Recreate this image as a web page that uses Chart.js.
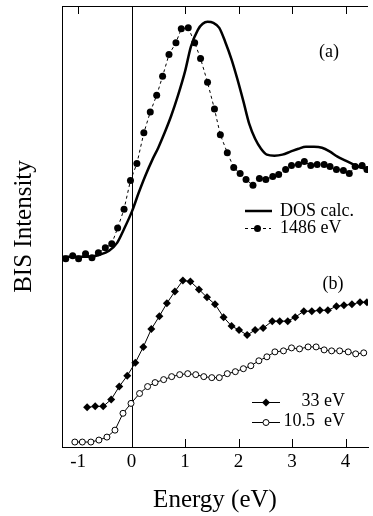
<!DOCTYPE html>
<html>
<head>
<meta charset="utf-8">
<script src="https://cdn.jsdelivr.net/npm/chart.js@4.4.0/dist/chart.umd.min.js"></script>
<style>
  html, body { margin: 0; padding: 0; background: #fff; }
  canvas { display: block; }
</style>
</head>
<body>
<canvas id="bis" width="373" height="516"></canvas>
<script>
// energies in eV, intensities in arbitrary units
const dosE = [-1.30, -1.06, -0.79, -0.60, -0.42, -0.27, -0.14, 0.01, 0.13, 0.26, 0.39, 0.50, 0.61, 0.74, 0.87, 1.00, 1.11, 1.24, 1.33, 1.42, 1.53, 1.64, 1.75, 1.87, 1.98, 2.09, 2.20, 2.31, 2.42, 2.53, 2.67, 2.82, 2.97, 3.12, 3.26, 3.41, 3.56, 3.71, 3.85, 4.00, 4.15, 4.29, 4.42];
const dosI = [192, 192, 192, 194, 198, 206, 220, 238, 256, 274, 290, 302, 316, 334, 355, 379, 404, 421, 427, 429, 428, 423, 409, 391, 371, 349, 326, 311, 301, 295, 294, 295, 298, 301, 303, 303, 302, 298, 293, 289, 285, 282, 281];

const e1486 = [-1.23, -1.10, -0.99, -0.86, -0.74, -0.62, -0.49, -0.37, -0.26, -0.14, -0.02, 0.10, 0.23, 0.35, 0.47, 0.58, 0.70, 0.83, 0.93, 1.06, 1.18, 1.29, 1.42, 1.55, 1.66, 1.79, 1.91, 2.03, 2.14, 2.27, 2.39, 2.51, 2.64, 2.75, 2.88, 2.99, 3.12, 3.23, 3.35, 3.47, 3.60, 3.71, 3.83, 3.96, 4.07, 4.18, 4.31, 4.40];
const i1486 = [190, 193, 190, 195, 191, 196, 201, 205, 221, 240, 269, 286, 317, 338, 355, 374, 396, 408, 422, 423, 408, 392, 368, 341, 315, 297, 282, 276, 270, 264, 271, 270, 273, 275, 280, 284, 285, 288, 284, 285, 285, 283, 280, 279, 276, 283, 284, 280];

const e33 = [-0.83, -0.68, -0.53, -0.38, -0.23, -0.08, 0.07, 0.22, 0.37, 0.52, 0.66, 0.81, 0.96, 1.10, 1.26, 1.41, 1.56, 1.72, 1.87, 2.01, 2.16, 2.31, 2.46, 2.63, 2.77, 2.92, 3.06, 3.22, 3.37, 3.52, 3.67, 3.83, 3.97, 4.12, 4.27, 4.40];
const i33 = [40, 41, 41, 48, 61, 72, 85, 101, 119, 132, 145, 157, 168, 167, 159, 151, 144, 131, 122, 118, 113, 118, 120, 127, 127, 127, 131, 137, 137, 138, 138, 142, 143, 144, 146, 146];

const e105 = [-1.06, -0.92, -0.76, -0.61, -0.46, -0.31, -0.16, -0.01, 0.15, 0.30, 0.44, 0.60, 0.75, 0.90, 1.05, 1.20, 1.35, 1.50, 1.64, 1.79, 1.94, 2.09, 2.23, 2.38, 2.53, 2.68, 2.84, 2.99, 3.14, 3.30, 3.45, 3.60, 3.74, 3.89, 4.05, 4.19, 4.34];
const i105 = [5, 5, 5, 7, 10, 17, 34, 44, 54, 61, 65, 68, 71, 73, 74, 73, 71, 70, 70, 74, 76, 79, 82, 87, 91, 96, 97, 100, 99, 101, 101, 98, 97, 97, 96, 94, 95];

const xTicks = [-1, 0, 1, 2, 3, 4];
const topTicks = [-1, 1, 2, 3, 4];
const bottomTicks = [1, 2, 3, 4];

const SERIF = '"Liberation Serif", "Times New Roman", serif';
const pts = (xs, ys) => xs.map((x, i) => ({ x, y: ys[i] }));

// frame, inward ticks, zero line, legends and panel labels
const frame = {
  id: 'frame',
  beforeDraw(chart) {
    const { ctx, width, height } = chart;
    ctx.save();
    ctx.fillStyle = '#fff';
    ctx.fillRect(0, 0, width, height);
    ctx.restore();
  },
  beforeDatasetsDraw(chart) {
    const { ctx, chartArea: a, scales: { x } } = chart;
    ctx.save();
    ctx.strokeStyle = '#000';
    ctx.lineWidth = 1;
    ctx.beginPath();
    ctx.moveTo(a.left, a.top + 0.5);
    ctx.lineTo(a.right, a.top + 0.5);
    const x0 = Math.round(x.getPixelForValue(0)) + 0.5;
    ctx.moveTo(x0, a.top);
    ctx.lineTo(x0, a.bottom);
    topTicks.forEach(v => {
      const px = Math.round(x.getPixelForValue(v)) + 0.5;
      ctx.moveTo(px, a.top);
      ctx.lineTo(px, a.top + 8);
    });
    bottomTicks.forEach(v => {
      const px = Math.round(x.getPixelForValue(v)) + 0.5;
      ctx.moveTo(px, a.bottom);
      ctx.lineTo(px, a.bottom - 8);
    });
    ctx.stroke();
    ctx.restore();
  },
  afterDraw(chart) {
    const { ctx } = chart;
    ctx.save();
    ctx.fillStyle = '#000';
    ctx.strokeStyle = '#000';
    ctx.textBaseline = 'middle';

    // (a) legend
    ctx.lineWidth = 2.5;
    ctx.beginPath(); ctx.moveTo(245, 211); ctx.lineTo(272, 211); ctx.stroke();
    ctx.lineWidth = 1;
    ctx.setLineDash([3, 3]);
    ctx.beginPath(); ctx.moveTo(245, 228.5); ctx.lineTo(271, 228.5); ctx.stroke();
    ctx.setLineDash([]);
    ctx.beginPath(); ctx.arc(257.5, 228.5, 3.5, 0, Math.PI * 2); ctx.fill();

    ctx.font = '18px ' + SERIF;
    ctx.textAlign = 'left';
    ctx.fillText('DOS calc.', 280, 211);
    ctx.fillText('1486 eV', 280, 228);

    // (b) legend
    ctx.beginPath(); ctx.moveTo(252, 402.5); ctx.lineTo(280, 402.5); ctx.stroke();
    ctx.beginPath();
    ctx.moveTo(266, 398.5); ctx.lineTo(270, 402.5); ctx.lineTo(266, 406.5); ctx.lineTo(262, 402.5);
    ctx.closePath(); ctx.fill();
    ctx.beginPath(); ctx.moveTo(252, 422.5); ctx.lineTo(280, 422.5); ctx.stroke();
    ctx.beginPath(); ctx.arc(266, 422.5, 3, 0, Math.PI * 2);
    ctx.fillStyle = '#fff'; ctx.fill(); ctx.stroke();
    ctx.fillStyle = '#000';
    ctx.textAlign = 'right';
    ctx.fillText('33 eV', 345, 401);
    ctx.fillText('10.5  eV', 345, 421);

    // panel labels
    ctx.textAlign = 'center';
    ctx.fillText('(a)', 329, 52);
    ctx.fillText('(b)', 333, 284);
    ctx.restore();
  }
};

new Chart(document.getElementById('bis'), {
  type: 'line',
  data: {
    datasets: [
      {
        label: 'DOS calc.',
        data: pts(dosE, dosI),
        borderColor: '#000',
        borderWidth: 2.5,
        pointRadius: 0,
        cubicInterpolationMode: 'monotone'
      },
      {
        label: '1486 eV',
        data: pts(e1486, i1486),
        borderColor: '#000',
        borderWidth: 1,
        borderDash: [3, 3],
        pointRadius: 3.5,
        pointBackgroundColor: '#000',
        pointBorderWidth: 0
      },
      {
        label: '33 eV',
        data: pts(e33, i33),
        borderColor: '#000',
        borderWidth: 1,
        pointStyle: 'rectRot',
        pointRadius: 4,
        pointBackgroundColor: '#000',
        pointBorderWidth: 0
      },
      {
        label: '10.5 eV',
        data: pts(e105, i105),
        borderColor: '#000',
        borderWidth: 1,
        pointRadius: 3,
        pointBackgroundColor: '#fff',
        pointBorderColor: '#000',
        pointBorderWidth: 1
      }
    ]
  },
  options: {
    responsive: false,
    animation: false,
    events: [],
    layout: { padding: { left: 9, top: 6, right: 0, bottom: 0 } },
    plugins: { legend: { display: false }, tooltip: { enabled: false } },
    scales: {
      x: {
        type: 'linear',
        min: -1.30,
        max: 4.42,
        afterBuildTicks: s => { s.ticks = xTicks.map(v => ({ value: v })); },
        grid: { display: false, drawTicks: false },
        border: { display: true, color: '#000', width: 1 },
        ticks: { color: '#000', padding: 4, font: { family: SERIF, size: 19 } },
        title: {
          display: true,
          text: 'Energy (eV)',
          color: '#000',
          font: { family: SERIF, size: 25 },
          padding: { top: 7.2, bottom: 1 }
        }
      },
      y: {
        min: 0,
        max: 445,
        grid: { display: false, drawTicks: false },
        border: { display: true, color: '#000', width: 1 },
        ticks: { display: false },
        title: {
          display: true,
          text: 'BIS Intensity',
          color: '#000',
          font: { family: SERIF, size: 25 },
          padding: { top: 0, bottom: 23 }
        }
      }
    }
  },
  plugins: [frame]
});
</script>
</body>
</html>
